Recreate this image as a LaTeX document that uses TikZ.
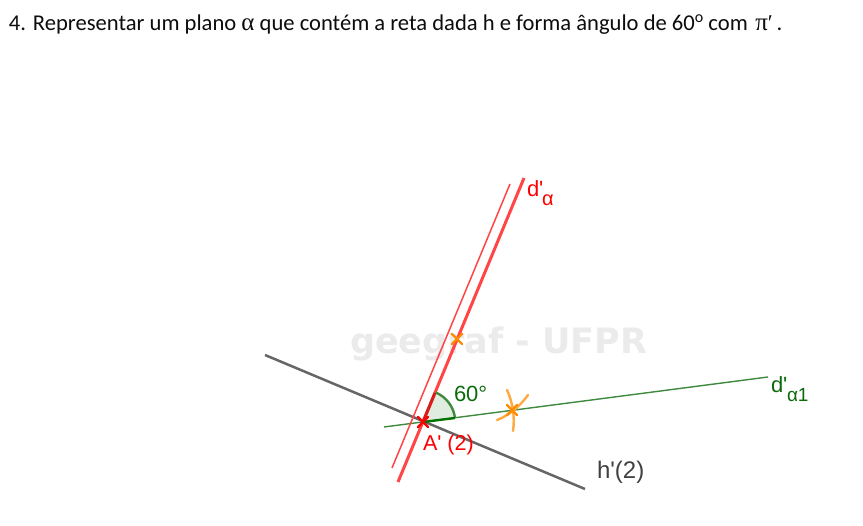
\documentclass[tikz,border=0pt]{standalone}
\usepackage{fontspec}
\setmainfont{Carlito}
\newfontfamily\lab{Liberation Sans}
\newfontfamily\wm{DejaVu Sans}
\newfontfamily\sym{Liberation Serif}
\definecolor{redl}{HTML}{FF4545}
\definecolor{greenl}{HTML}{3F8A3F}
\definecolor{greent}{HTML}{0B6B0B}
\definecolor{orangel}{HTML}{FFA940}
\definecolor{orangex}{HTML}{FF8C00}
\tikzset{
  x=1pt,y=-1pt,
  every node/.style={inner sep=0pt,outer sep=0pt},
  lbl/.style={font=\lab\fontsize{22}{24}\selectfont,anchor=base west},
  sublbl/.style={font=\lab\fontsize{20}{22}\selectfont,anchor=base west},
  xmark/.style={line width=2.4pt,line cap=round},
}
\begin{document}
\begin{tikzpicture}
\useasboundingbox (0,0) rectangle (863,526);
\fill[white] (0,0) rectangle (863,526);
% title
\node[anchor=base west,font=\fontsize{22.6}{24}\selectfont,text=black!95] (title) at (9,31)
  {4. Representar um plano {\sym\fontsize{25}{25}\selectfont α} que contém a reta dada h e forma ângulo de 60\raisebox{0.75ex}{\fontsize{16}{16}\selectfont o} com\,\,{\sym\fontsize{25}{25}\selectfont π}{\sym ′}\,.};
% watermark
\node[anchor=base west,font=\wm\bfseries\fontsize{35}{38}\selectfont,text=black!8] (wm) at (350,354) {geegraf - UFPR};
% coordinates
\coordinate (hs) at (265,355);
\coordinate (he) at (585,489);
\coordinate (ds) at (398,482);
\coordinate (de) at (524,178);
\coordinate (ts) at (392,468);
\coordinate (te) at (510,184);
\coordinate (gs) at (384,427);
\coordinate (ge) at (768,377);
\coordinate (A) at (423,422);
\coordinate (a1) at (455,418);
\coordinate (a2) at (435,393);
% sector
\fill[green!40!black,fill opacity=0.12] (A) -- (a1) arc[start angle=-7.1,end angle=-67.1,radius=32,x=1pt,y=-1pt] -- cycle;
% lines
\draw[black!60,line width=2.5pt] (hs) -- (he);
\draw[greenl,line width=1.4pt] (gs) -- (ge);
\draw[redl,line width=3pt] (ds) -- (de);
\draw[redl,line width=1.5pt] (ts) -- (te);
% sector edges
\draw[greenl,line width=2.4pt] (a1) arc[start angle=-7.1,end angle=-67.1,radius=32,x=1pt,y=-1pt];
\draw[green!45!black,line width=2.4pt] (A) -- (a1);
\draw[red!75!black,opacity=.6,line width=3pt] (A) -- (a2);
% compass arcs
\draw[orangel,line width=2.4pt,line cap=round] (507,390) .. controls (513,403) and (515,418) .. (513,431);
\draw[orangel,line width=2.4pt,line cap=round] (497,420) .. controls (510,415) and (520,406) .. (528,395);
% crosses
\draw[orangex,xmark] (452,334) -- (462,344) (452,344) -- (462,334);
\draw[orangex,xmark] (507,405) -- (517,415) (507,415) -- (517,405);
\draw[red,xmark] (418,417) -- (428,427) (418,427) -- (428,417);
% labels
\node[lbl,text=greent] (l60) at (454,402) {60°};
\node[lbl,text=red,font=\lab\fontsize{21.5}{24}\selectfont] (lA) at (423,451) {A' (2)};
\node[lbl,text=black!75,font=\lab\fontsize{24}{26}\selectfont] (lh) at (597,479) {h'(2)};
\node[lbl,text=red] (ld) at (527,197) {d'};
\node[sublbl,text=red] (lda) at (542,206) {α};
\node[lbl,text=greent] (lg) at (771,393) {d'};
\node[sublbl,text=greent,font=\lab\fontsize{19}{22}\selectfont] (lga) at (787,402) {α1};
\end{tikzpicture}
\end{document}
